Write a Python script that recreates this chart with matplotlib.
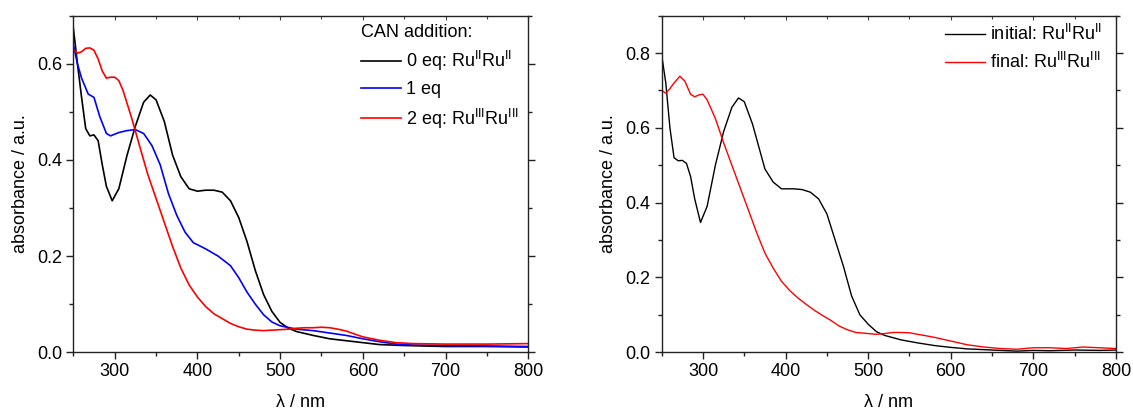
import matplotlib
matplotlib.use("Agg")
import matplotlib.pyplot as plt
from matplotlib.ticker import MultipleLocator

plt.rcParams['font.family'] = ['Liberation Sans', 'DejaVu Sans']
plt.rcParams['mathtext.fontset'] = 'custom'
plt.rcParams['mathtext.rm'] = 'Liberation Sans'
plt.rcParams['mathtext.it'] = 'Liberation Sans:italic'

# ---- left panel: CAN titration ----
wl_0eq = [250, 255, 260, 265, 270, 275, 280, 285, 290, 297, 305, 315, 325, 335, 343,
          350, 360, 370, 380, 390, 400, 410, 420, 430, 440, 450, 460, 470, 480, 490,
          500, 510, 520, 540, 560, 580, 600, 620, 650, 700, 750, 800]
abs_0eq = [0.675, 0.6, 0.53, 0.465, 0.45, 0.452, 0.44, 0.39, 0.345, 0.315, 0.34, 0.41,
           0.47, 0.52, 0.535, 0.525, 0.48, 0.41, 0.365, 0.34, 0.335, 0.337, 0.337,
           0.333, 0.315, 0.28, 0.23, 0.17, 0.12, 0.085, 0.062, 0.05, 0.043, 0.035,
           0.028, 0.024, 0.02, 0.016, 0.014, 0.012, 0.012, 0.011]

wl_1eq = [250, 255, 260, 268, 275, 282, 290, 295, 305, 315, 325, 335, 345, 355, 365,
          375, 385, 395, 410, 425, 440, 450, 460, 470, 480, 490, 500, 520, 540, 560,
          580, 600, 620, 640, 660, 700, 800]
abs_1eq = [0.64, 0.6, 0.57, 0.537, 0.53, 0.49, 0.455, 0.45, 0.457, 0.461, 0.463, 0.455,
           0.43, 0.39, 0.33, 0.285, 0.25, 0.228, 0.215, 0.2, 0.18, 0.155, 0.125, 0.1,
           0.078, 0.063, 0.055, 0.048, 0.045, 0.04, 0.035, 0.028, 0.022, 0.017,
           0.015, 0.014, 0.012]

wl_2eq = [250, 255, 260, 265, 270, 275, 280, 285, 290, 295, 300, 305, 310, 320, 330,
          340, 350, 360, 370, 380, 390, 400, 410, 420, 430, 440, 450, 460, 470, 480,
          490, 500, 510, 520, 530, 540, 550, 560, 570, 580, 590, 600, 620, 640, 660,
          700, 750, 800]
abs_2eq = [0.63, 0.622, 0.625, 0.632, 0.633, 0.628, 0.61, 0.585, 0.57, 0.572, 0.572,
           0.565, 0.545, 0.49, 0.43, 0.37, 0.32, 0.27, 0.22, 0.175, 0.14, 0.115, 0.095,
           0.08, 0.07, 0.06, 0.053, 0.048, 0.046, 0.045, 0.046, 0.047, 0.048, 0.05,
           0.051, 0.051, 0.052, 0.051, 0.048, 0.044, 0.038, 0.032, 0.025, 0.02, 0.018,
           0.017, 0.017, 0.018]

# ---- right panel: initial vs final ----
wl_init = [250, 255, 260, 265, 270, 275, 280, 285, 290, 297, 305, 315, 325, 335, 343,
           350, 360, 370, 375, 385, 395, 410, 420, 430, 440, 450, 460, 470, 480, 490,
           500, 510, 520, 540, 560, 580, 600, 620, 650, 680, 700, 720, 750, 780, 800]
abs_init = [0.795, 0.72, 0.6, 0.52, 0.512, 0.513, 0.505, 0.47, 0.41, 0.347, 0.39, 0.5,
            0.59, 0.655, 0.68, 0.67, 0.61, 0.53, 0.49, 0.455, 0.437, 0.437, 0.435,
            0.428, 0.41, 0.37, 0.3, 0.23, 0.15, 0.1, 0.075, 0.055, 0.045, 0.033,
            0.025, 0.018, 0.013, 0.009, 0.006, 0.003, 0.005, 0.004, 0.006, 0.005, 0.006]

wl_final = [250, 255, 260, 265, 272, 278, 285, 290, 295, 300, 305, 315, 325, 335, 345,
            355, 365, 375, 385, 395, 405, 415, 425, 435, 445, 455, 465, 475, 485, 500,
            510, 520, 530, 540, 550, 560, 570, 580, 590, 600, 620, 640, 660, 680, 700,
            720, 740, 760, 780, 800]
abs_final = [0.7, 0.693, 0.705, 0.72, 0.738, 0.725, 0.69, 0.683, 0.688, 0.69, 0.675,
             0.625, 0.56, 0.5, 0.44, 0.38, 0.32, 0.265, 0.225, 0.19, 0.165, 0.145,
             0.128, 0.112, 0.098, 0.085, 0.07, 0.06, 0.053, 0.05, 0.048, 0.05, 0.053,
             0.053, 0.052, 0.048, 0.044, 0.04, 0.035, 0.03, 0.02, 0.014, 0.01, 0.008,
             0.012, 0.012, 0.01, 0.014, 0.012, 0.01]

RU2 = r'Ru$^{\rm II}$Ru$^{\rm II}$'
RU3 = r'Ru$^{\rm III}$Ru$^{\rm III}$'

fig = plt.figure(figsize=(11.33, 4.12), dpi=100)
ax1 = fig.add_axes([0.0647, 0.145, 0.4016, 0.817])
ax2 = fig.add_axes([0.584, 0.145, 0.401, 0.817])

lw = 1.2
ax1.plot(wl_0eq, abs_0eq, color='black', lw=lw, label='0 eq: ' + RU2)
ax1.plot(wl_1eq, abs_1eq, color='blue', lw=lw, label='1 eq')
ax1.plot(wl_2eq, abs_2eq, color='red', lw=lw, label='2 eq: ' + RU3)
ax1.set_ylim(0, 0.7)

ax2.plot(wl_init, abs_init, color='black', lw=1.0, label='initial: ' + RU2)
ax2.plot(wl_final, abs_final, color='red', lw=1.0, label='final: ' + RU3)
ax2.set_ylim(0, 0.9)

for ax in (ax1, ax2):
    ax.set_xlim(250, 800)
    ax.xaxis.set_major_locator(MultipleLocator(100))
    ax.xaxis.set_minor_locator(MultipleLocator(50))
    ax.yaxis.set_major_locator(MultipleLocator(0.2))
    ax.yaxis.set_minor_locator(MultipleLocator(0.1))
    ax.yaxis.set_major_formatter(plt.FormatStrFormatter('%.1f'))
    ax.tick_params(which='both', direction='out', right=True,
                   labelsize=13, width=1.0, color='#222222')
    ax.tick_params(which='major', length=5, pad=3)
    ax.tick_params(which='minor', length=3)
    ax.tick_params(axis='y', which='both', right=True)
    ax.tick_params(axis='y', which='major', length=5)
    # inward ticks along the top edge
    top = ax.secondary_xaxis('top')
    top.xaxis.set_major_locator(MultipleLocator(100))
    top.xaxis.set_minor_locator(MultipleLocator(50))
    top.tick_params(which='both', direction='in', labeltop=False, width=0.8,
                    color='#444444')
    top.tick_params(which='major', length=3)
    top.tick_params(which='minor', length=2)
    top.spines['top'].set_visible(False)
    for s in ax.spines.values():
        s.set_linewidth(1.0)
        s.set_color('#222222')
    ax.set_xlabel(r'λ / nm', fontsize=13, labelpad=10)
    ax.set_ylabel('absorbance / a.u.', fontsize=13, labelpad=6)

leg1 = ax1.legend(title='CAN addition:', loc='upper left', bbox_to_anchor=(0.632, 0.975),
                  frameon=False, fontsize=13, title_fontsize=13, alignment='left',
                  handlelength=2.2, handletextpad=0.3, labelspacing=0.45,
                  borderpad=0, borderaxespad=0)
leg2 = ax2.legend(loc='upper left', bbox_to_anchor=(0.6236, 0.975),
                  frameon=False, fontsize=13,
                  handlelength=2.2, handletextpad=0.3, labelspacing=0.45,
                  borderpad=0, borderaxespad=0)

fig.savefig('out.png', dpi=100)
